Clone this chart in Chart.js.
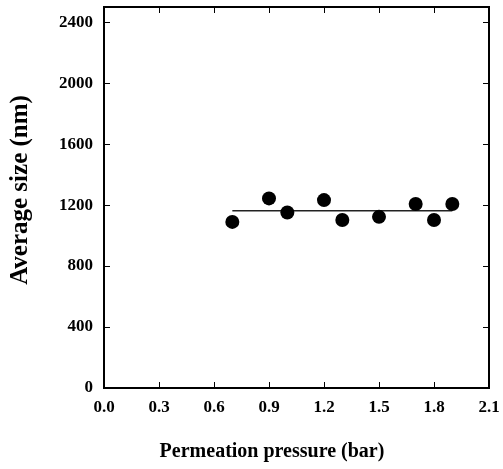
<!DOCTYPE html>
<html>
<head>
<meta charset="utf-8">
<script src="https://cdn.jsdelivr.net/npm/chart.js@4.4.0/dist/chart.umd.min.js"></script>
<style>
  html, body { margin: 0; padding: 0; background: #fff; }
  #wrap { width: 503px; height: 469px; }
</style>
</head>
<body>
<div id="wrap"><canvas id="chart"></canvas></div>
<script>
// measured points
const pressure = [0.7, 0.9, 1.0, 1.2, 1.3, 1.5, 1.7, 1.8, 1.9];
const avgSize = [1090, 1244, 1152, 1233, 1102, 1123, 1207, 1102, 1207];
// mean line
const fitX = [0.7, 1.9];
const fitY = [1163, 1163];

const xTicks = [0.0, 0.3, 0.6, 0.9, 1.2, 1.5, 1.8, 2.1];
const yTicks = [0, 400, 800, 1200, 1600, 2000, 2400];

const xTitle = 'Permeation pressure (bar)';
const yTitle = 'Average size (nm)';

const serif = '"Liberation Serif", "DejaVu Serif", serif';

const insideTicks = {
  id: 'insideTicks',
  afterDraw(chart) {
    const { ctx, chartArea: a, scales } = chart;
    ctx.save();
    ctx.strokeStyle = '#000';
    ctx.lineWidth = 1;
    ctx.beginPath();
    xTicks.forEach((v) => {
      const px = Math.round(scales.x.getPixelForValue(v)) + 0.5;
      ctx.moveTo(px, a.bottom);
      ctx.lineTo(px, a.bottom - 6);
      ctx.moveTo(px, a.top);
      ctx.lineTo(px, a.top + 6);
    });
    yTicks.forEach((v) => {
      const py = Math.round(scales.y.getPixelForValue(v)) + 0.5;
      ctx.moveTo(a.left, py);
      ctx.lineTo(a.left + 6, py);
      ctx.moveTo(a.right, py);
      ctx.lineTo(a.right - 6, py);
    });
    ctx.stroke();
    ctx.lineWidth = 2;
    ctx.strokeRect(a.left, a.top, a.right - a.left, a.bottom - a.top);

    // axis titles
    ctx.fillStyle = '#000';
    ctx.textAlign = 'center';
    ctx.textBaseline = 'middle';
    ctx.font = 'bold 20px ' + serif;
    ctx.fillText(xTitle, 272, 452);
    ctx.font = 'bold 25px ' + serif;
    ctx.translate(21, 190);
    ctx.rotate(-Math.PI / 2);
    ctx.fillText(yTitle, 0, 0);
    ctx.restore();
  }
};

new Chart(document.getElementById('chart'), {
  type: 'scatter',
  data: {
    datasets: [
      {
        label: 'fit',
        data: fitX.map((x, i) => ({ x, y: fitY[i] })),
        showLine: true,
        borderColor: '#222',
        borderWidth: 1.5,
        pointRadius: 0,
        order: 2
      },
      {
        label: 'size',
        data: pressure.map((x, i) => ({ x, y: avgSize[i] })),
        backgroundColor: '#000',
        borderColor: '#000',
        pointRadius: 7,
        pointBorderWidth: 0,
        order: 1
      }
    ]
  },
  options: {
    responsive: true,
    maintainAspectRatio: false,
    animation: false,
    layout: { padding: { top: 6, right: 14, left: 0, bottom: 0 } },
    plugins: { legend: { display: false }, tooltip: { enabled: false } },
    scales: {
      x: {
        type: 'linear',
        min: 0,
        max: 2.1,
        afterBuildTicks: (s) => { s.ticks = xTicks.map((v) => ({ value: v })); },
        afterFit: (s) => { s.height = 81; s.paddingLeft = 0; s.paddingRight = 0; },
        grid: { display: false, drawTicks: false },
        border: { display: false },
        ticks: {
          color: '#000',
          padding: 9,
          font: { family: serif, size: 17, weight: 'bold' },
          callback: (v) => v.toFixed(1)
        }
      },
      y: {
        type: 'linear',
        min: 0,
        max: 2500,
        afterBuildTicks: (s) => { s.ticks = yTicks.map((v) => ({ value: v })); },
        afterFit: (s) => { s.width = 104; s.paddingTop = 0; s.paddingBottom = 0; },
        grid: { display: false, drawTicks: false },
        border: { display: false },
        ticks: {
          color: '#000',
          padding: 11,
          font: { family: serif, size: 17, weight: 'bold' },
          callback: (v) => String(v)
        }
      }
    }
  },
  plugins: [insideTicks]
});
</script>
</body>
</html>
